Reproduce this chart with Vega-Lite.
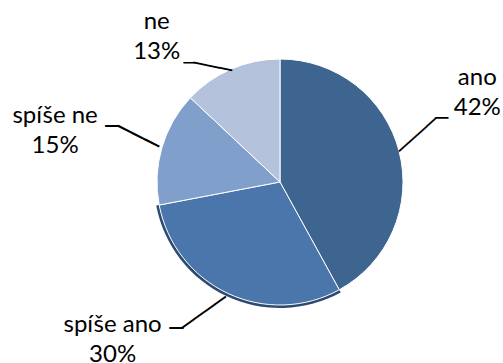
{
  "$schema": "https://vega.github.io/schema/vega-lite/v6.json",
  "width": 446,
  "height": 362,
  "autosize": "none",
  "padding": {"left": 57, "right": 0, "top": 1, "bottom": 0},
  "background": "white",
  "data": {
    "values": [
      {"cat": "ano", "pct": 42, "ord": 1, "label": "ano\n42%"},
      {"cat": "spíše ano", "pct": 30, "ord": 2, "label": "spíše ano\n30%"},
      {"cat": "spíše ne", "pct": 15, "ord": 3, "label": "spíše ne\n15%"},
      {"cat": "ne", "pct": 13, "ord": 4, "label": "ne\n13%"}
    ]
  },
  "encoding": {
    "theta": {"field": "pct", "type": "quantitative", "stack": true},
    "order": {"field": "ord", "type": "ordinal"}
  },
  "layer": [
    {
      "mark": {"type": "arc", "outerRadius": 126},
      "encoding": {
        "color": {"condition": {"test": "datum.cat === 'spíše ano'", "value": "#2D4A70"}, "value": "rgba(0,0,0,0)"}
      }
    },
    {
      "mark": {"type": "arc", "outerRadius": 123, "stroke": "white", "strokeWidth": 1},
      "encoding": {
        "color": {
          "field": "cat",
          "type": "nominal",
          "scale": {"domain": ["ano", "spíše ano", "spíše ne", "ne"], "range": ["#3E6490", "#4A76AB", "#819FCB", "#B4C2DC"]},
          "legend": null
        }
      }
    },
    {
      "mark": {"type": "text", "radius": 213, "dx": -9, "dy": -51, "font": "Lato", "fontSize": 24, "lineBreak": "\n", "lineHeight": 30, "align": "center", "baseline": "middle", "color": "#000000"},
      "encoding": {"text": {"condition": {"test": "datum.cat === 'ano'", "field": "label", "type": "nominal"}, "value": ""}}
    },
    {
      "mark": {"type": "text", "radius": 210, "dx": -78, "dy": -47, "font": "Lato", "fontSize": 24, "lineBreak": "\n", "lineHeight": 30, "align": "center", "baseline": "middle", "color": "#000000"},
      "encoding": {"text": {"condition": {"test": "datum.cat === 'spíše ano'", "field": "label", "type": "nominal"}, "value": ""}}
    },
    {
      "mark": {"type": "text", "radius": 230, "dx": -4, "dy": -2, "font": "Lato", "fontSize": 24, "lineBreak": "\n", "lineHeight": 30, "align": "center", "baseline": "middle", "color": "#000000"},
      "encoding": {"text": {"condition": {"test": "datum.cat === 'spíše ne'", "field": "label", "type": "nominal"}, "value": ""}}
    },
    {
      "mark": {"type": "text", "radius": 182, "dx": -51, "dy": 7, "font": "Lato", "fontSize": 24, "lineBreak": "\n", "lineHeight": 30, "align": "center", "baseline": "middle", "color": "#000000"},
      "encoding": {"text": {"condition": {"test": "datum.cat === 'ne'", "field": "label", "type": "nominal"}, "value": ""}}
    },
    {
      "mark": {"type": "text", "radius": 123, "angle": -42, "dy": 1, "font": "DejaVu Sans Mono", "fontSize": 20.5, "align": "left", "baseline": "middle", "color": "#000000"},
      "encoding": {"text": {"condition": {"test": "datum.cat === 'ano'", "value": "────"}, "value": ""}}
    },
    {
      "mark": {"type": "text", "radius": 123, "angle": 0, "dx": 36, "dy": -32, "font": "DejaVu Sans Mono", "fontSize": 21.6, "align": "left", "baseline": "middle", "color": "#000000"},
      "encoding": {"text": {"condition": {"test": "datum.cat === 'ano'", "value": "─"}, "value": ""}}
    },
    {
      "mark": {"type": "text", "radius": 127, "angle": 144.4, "dy": 1, "font": "DejaVu Sans Mono", "fontSize": 22.2, "align": "left", "baseline": "middle", "color": "#000000"},
      "encoding": {"text": {"condition": {"test": "datum.cat === 'spíše ano'", "value": "────"}, "value": ""}}
    },
    {
      "mark": {"type": "text", "radius": 127, "angle": 0, "dx": -42.5, "dy": 32, "font": "DejaVu Sans Mono", "fontSize": 23, "align": "right", "baseline": "middle", "color": "#000000"},
      "encoding": {"text": {"condition": {"test": "datum.cat === 'spíše ano'", "value": "─"}, "value": ""}}
    },
    {
      "mark": {"type": "text", "radius": 126, "angle": 206.7, "dy": 1, "font": "DejaVu Sans Mono", "fontSize": 25.4, "align": "left", "baseline": "middle", "color": "#000000"},
      "encoding": {"text": {"condition": {"test": "datum.cat === 'spíše ne'", "value": "───"}, "value": ""}}
    },
    {
      "mark": {"type": "text", "radius": 126, "angle": 0, "dx": -40, "dy": -19.6, "font": "DejaVu Sans Mono", "fontSize": 23, "align": "right", "baseline": "middle", "color": "#000000"},
      "encoding": {"text": {"condition": {"test": "datum.cat === 'spíše ne'", "value": "─"}, "value": ""}}
    },
    {
      "mark": {"type": "text", "radius": 121, "angle": 191.7, "dy": 1, "font": "DejaVu Sans Mono", "fontSize": 21.8, "align": "left", "baseline": "middle", "color": "#000000"},
      "encoding": {"text": {"condition": {"test": "datum.cat === 'ne'", "value": "───"}, "value": ""}}
    },
    {
      "mark": {"type": "text", "radius": 121, "angle": 0, "dx": -37.6, "dy": -7, "font": "DejaVu Sans Mono", "fontSize": 18, "align": "right", "baseline": "middle", "color": "#000000"},
      "encoding": {"text": {"condition": {"test": "datum.cat === 'ne'", "value": "─"}, "value": ""}}
    }
  ],
  "config": {"view": {"stroke": null}}
}
